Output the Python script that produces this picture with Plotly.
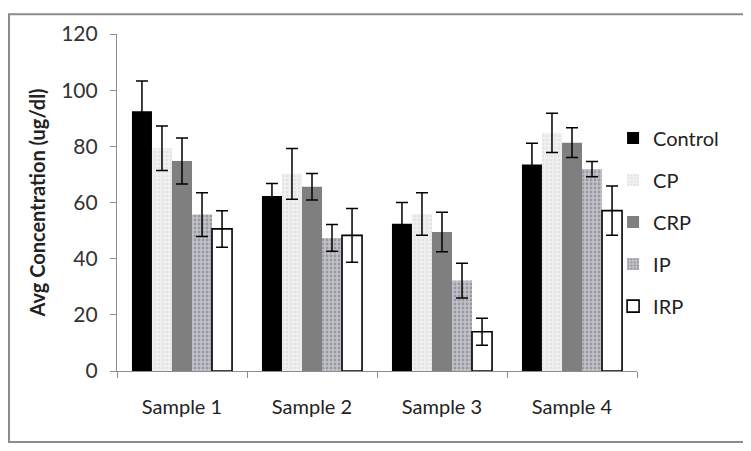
import plotly.graph_objects as go

categories = ["Sample 1", "Sample 2", "Sample 3", "Sample 4"]
series_names = ["Control", "CP", "CRP", "IP", "IRP"]
control = [92.5, 62.3, 52.4, 73.5]
control_err = [10.8, 4.5, 7.6, 7.6]
cp = [79.3, 70.2, 55.9, 84.8]
cp_err = [7.9, 9.0, 7.6, 7.0]
crp = [74.8, 65.6, 49.5, 81.3]
crp_err = [8.2, 4.7, 7.0, 5.3]
ip = [55.7, 47.4, 32.2, 71.9]
ip_err = [7.8, 4.8, 6.2, 2.7]
irp = [50.6, 48.3, 14.0, 57.1]
irp_err = [6.5, 9.6, 4.8, 8.8]
y_ticks = [0, 20, 40, 60, 80, 100, 120]

values = [control, cp, crp, ip, irp]
errors = [control_err, cp_err, crp_err, ip_err, irp_err]

styles = [
    dict(color="#000000", line=dict(width=0)),
    dict(color="#ececec", line=dict(width=0),
         pattern=dict(shape=".", fgcolor="#d6d6d6", bgcolor="#f0f0f0", size=4, solidity=0.35)),
    dict(color="#7f7f7f", line=dict(width=0)),
    dict(color="#b4b4bc", line=dict(width=0),
         pattern=dict(shape=".", fgcolor="#707078", bgcolor="#c2c2ca", size=4, solidity=0.4)),
    dict(color="#ffffff", line=dict(width=1.6, color="#000000")),
]

fig = go.Figure()
for name, vals, errs, st in zip(series_names, values, errors, styles):
    fig.add_trace(go.Bar(
        name=name, x=categories, y=vals, marker=st, legendgroup=name,
        error_y=dict(type="data", array=errs, visible=True, color="#000000",
                     thickness=1.5, width=6),
    ))

font_family = "Lato, 'Open Sans', sans-serif"

# the page body has an 8px margin, so the figure is sized to fit the window
fig.update_layout(
    width=743, height=443,
    margin=dict(l=109, r=114, t=21, b=80),
    paper_bgcolor="white", plot_bgcolor="white",
    barmode="group", bargap=0.23, bargroupgap=0,
    font=dict(family=font_family, size=20, color="#222222"),
    legend=dict(x=0.954, xanchor="left", y=0.749, yanchor="top",
                tracegroupgap=13, font=dict(size=20, color="#222222"),
                bgcolor="rgba(0,0,0,0)"),
    xaxis=dict(showline=True, linecolor="#8c8c8c", linewidth=1.2,
               ticks="outside", tickson="boundaries", ticklen=6, tickcolor="#8c8c8c",
               showgrid=False, ticklabelstandoff=18,
               tickfont=dict(size=20, color="#222222")),
    yaxis=dict(range=[0, 120], tickvals=y_ticks, showline=True, linecolor="#8c8c8c",
               linewidth=1.2, ticks="outside", ticklen=6, tickcolor="#8c8c8c",
               showgrid=False, zeroline=False, ticklabelstandoff=8,
               tickfont=dict(size=21, color="#333333"),
               title=dict(text="<b>Avg Concentration (ug/dl)</b>",
                          font=dict(size=20, color="#222222"), standoff=10)),
    shapes=[dict(type="rect", xref="paper", yref="paper",
                 x0=-0.2077, x1=1.2077, y0=-0.2105, y1=1.0585,
                 line=dict(color="#8c8c8c", width=2), fillcolor="rgba(0,0,0,0)")],
)

fig.write_html("out.html")
